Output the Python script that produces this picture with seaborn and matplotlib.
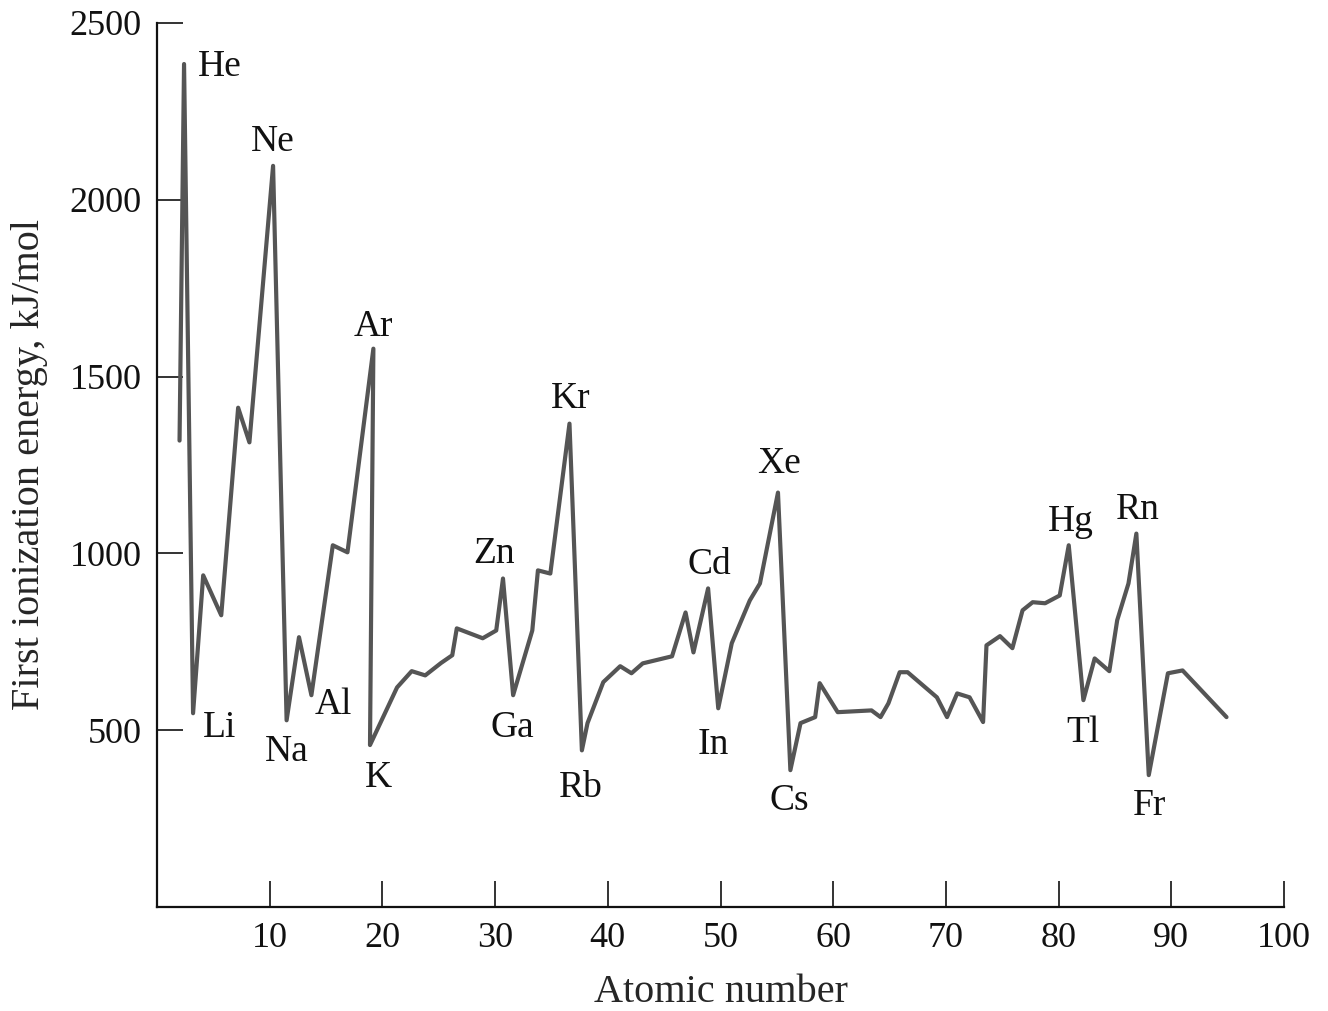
import numpy as np
import matplotlib
matplotlib.use("Agg")
import matplotlib.pyplot as plt
import seaborn as sns
import pandas as pd

# values (atomic number as drawn, kJ/mol)
atomic_number = [2.0, 2.4, 3.2, 4.1, 5.7, 7.2, 8.2, 10.3, 11.5, 12.6, 13.7,
                 15.6, 16.9, 19.2, 18.9, 21.3, 22.6, 23.8, 25.2, 26.2, 26.6,
                 28.9, 30.1, 30.7, 31.6, 33.3, 33.8, 34.9, 36.6, 37.7, 38.2,
                 39.6, 41.1, 42.1, 43.1, 45.7, 46.9, 47.6, 48.9, 49.8, 51.0,
                 52.6, 53.5, 55.1, 56.2, 57.1, 58.4, 58.8, 60.4, 63.4, 64.2,
                 64.9, 65.9, 66.6, 69.2, 70.1, 71.0, 72.1, 73.3, 73.6, 74.8,
                 75.9, 76.8, 77.7, 78.8, 80.1, 80.9, 82.2, 83.2, 84.5, 85.2,
                 86.2, 86.9, 88.0, 89.7, 91.0, 94.9]
energy = [1319, 2384, 548, 938, 825, 1412, 1314, 2096, 528, 763, 599,
          1023, 1003, 1579, 458, 621, 667, 655, 690, 712, 788,
          760, 782, 929, 599, 782, 952, 943, 1367, 443, 520,
          636, 681, 661, 689, 709, 833, 720, 901, 562, 746,
          867, 915, 1172, 387, 520, 537, 633, 551, 556, 537,
          576, 664, 664, 593, 537, 604, 593, 523, 740, 766,
          732, 839, 862, 859, 881, 1023, 585, 703, 667, 811,
          915, 1056, 373, 661, 669, 537]

# element labels: (symbol, index of the point, offset in pixels)
label_names = ["He", "Ne", "Ar", "Kr", "Xe", "Rn", "Hg", "Zn", "Cd",
               "Li", "Na", "Al", "K", "Ga", "Rb", "In", "Cs", "Tl", "Fr"]
label_index = [1, 7, 13, 28, 43, 72, 66, 23, 38,
               2, 8, 10, 14, 24, 29, 39, 44, 67, 73]
label_offset = [(36, -3), (0, 24), (0, 22), (1, 25), (1, 29), (1, 24), (2, 24), (-9, 25), (1, 24),
                (26, -15), (0, -31), (22, -10), (8, -33), (-1, -33), (-1, -37), (-5, -36),
                (-1, -31), (0, -33), (1, -31)]

sns.set_style("ticks")
plt.rcParams['font.family'] = ['Liberation Serif', 'DejaVu Serif']

df = pd.DataFrame({"z": atomic_number, "ie": energy})

fig = plt.figure(figsize=(13.28, 10.11), dpi=100)
ax = fig.add_axes([157 / 1328, 104 / 1011, (1284 - 157) / 1328, (907 - 23) / 1011])

sns.lineplot(data=df, x="z", y="ie", sort=False, estimator=None,
             color="#555555", linewidth=3, ax=ax)

for name, idx, off in zip(label_names, label_index, label_offset):
    ax.annotate(name, xy=(atomic_number[idx], energy[idx]), xytext=off,
                textcoords="offset pixels", ha="center", va="center",
                fontsize=27, color="#111111")

ax.set_xlim(0, 100)
ax.set_ylim(0, 2500)
ax.set_xticks(range(10, 101, 10))
ax.set_yticks(range(500, 2501, 500))
ax.tick_params(direction="in", length=19, width=1.2, pad=11, labelsize=26, colors="#111111")
for s in ["left", "bottom"]:
    ax.spines[s].set_linewidth(1.6)
    ax.spines[s].set_color("#111111")
sns.despine(ax=ax)

ax.set_xlabel("Atomic number", fontsize=29)
ax.set_ylabel("First ionization energy, kJ/mol", fontsize=29)
ax.xaxis.set_label_coords(0.5, (907 - 992) / 884)
ax.xaxis.label.set_va("center")
ax.yaxis.set_label_coords((30 - 157) / 1127, 0.5)
ax.yaxis.label.set_va("center")

fig.savefig("out.png", dpi=100)
